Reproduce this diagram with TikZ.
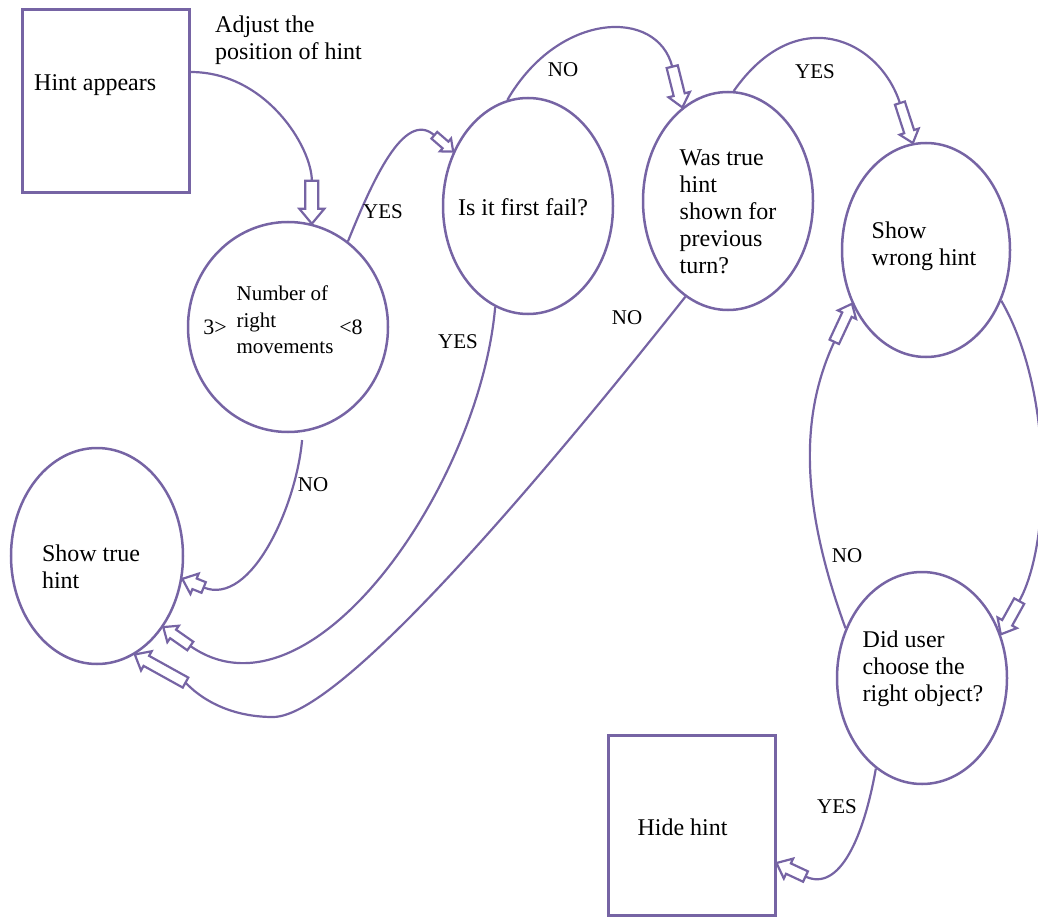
\documentclass[tikz,border=0pt]{standalone}
\usepackage{fontspec}
\setmainfont{Liberation Serif}
\usetikzlibrary{arrows.meta,shapes.geometric}

\definecolor{linec}{RGB}{118,100,164}

% hollow block arrow tip
\newdimen\hbhead
\newdimen\hbshaft
\pgfdeclarearrow{
  name = HollowBlock,
  defaults = {length = 40pt, width = 22pt},
  parameters = {\the\pgfarrowlength,\the\pgfarrowwidth},
  setup code = {
    \pgfarrowssettipend{0pt}
    \pgfarrowssetlineend{-\pgfarrowlength}
    \pgfarrowssetbackend{-\pgfarrowlength}
    \pgfarrowsupperhullpoint{0pt}{0pt}
    \pgfarrowsupperhullpoint{-\pgfarrowlength}{.5\pgfarrowwidth}
    \pgfarrowssavethe\pgfarrowlength
    \pgfarrowssavethe\pgfarrowwidth
  },
  drawing code = {
    \hbhead=.6\pgfarrowwidth
    \hbshaft=.26\pgfarrowwidth
    \pgfpathmoveto{\pgfqpoint{0pt}{0pt}}
    \pgfpathlineto{\pgfqpoint{-\hbhead}{.5\pgfarrowwidth}}
    \pgfpathlineto{\pgfqpoint{-\hbhead}{\hbshaft}}
    \pgfpathlineto{\pgfqpoint{-\pgfarrowlength}{\hbshaft}}
    \pgfpathlineto{\pgfqpoint{-\pgfarrowlength}{-\hbshaft}}
    \pgfpathlineto{\pgfqpoint{-\hbhead}{-\hbshaft}}
    \pgfpathlineto{\pgfqpoint{-\hbhead}{-.5\pgfarrowwidth}}
    \pgfpathclose
    \pgfusepathqstroke
  }
}

\tikzset{
  flow/.style={draw=linec, line width=2.2pt},
  state/.style={ellipse, draw=linec, line width=2.5pt, inner sep=0pt},
  procbox/.style={rectangle, draw=linec, line width=3pt, inner sep=0pt},
  txt/.style={inner sep=0pt, align=left, font=\fontsize{24}{27}\selectfont},
  answer/.style={inner sep=0pt, font=\fontsize{21}{24}\selectfont},
}

\begin{document}
\begin{tikzpicture}[x=1pt, y=1pt]
    \useasboundingbox (0,0) rectangle (1038,-917);

    % boxes
    \node[procbox, minimum width=167pt, minimum height=183pt] (appear) at (105.5,-101.5) {};
    \node[txt, anchor=west] (appeartxt) at (34,-85) {Hint appears};
    \node[procbox, minimum width=167pt, minimum height=180pt] (hide) at (691.5,-825) {};
    \node[txt] (hidetxt) at (682.5,-827) {Hide hint};

    \node[txt, anchor=west] (adjust) at (215,-40) {Adjust the\\position of hint};

    % states
    \node[state, minimum width=200pt, minimum height=210pt] (count) at (288,-327) {};
    \node[txt, font=\fontsize{21}{26.5}\selectfont] (counttxt) at (285,-320) {Number of\\right\\movements};
    \node[txt, font=\fontsize{22}{24}\selectfont] (lowbound) at (215,-327) {3>};
    \node[txt, font=\fontsize{22}{24}\selectfont] (upbound) at (351,-327) {<8};

    \node[state, minimum width=170pt, minimum height=216pt] (fail) at (528,-206) {};
    \node[txt] (failtxt) at (523,-207) {Is it first fail?};

    \node[state, minimum width=170pt, minimum height=218pt] (shown) at (728,-201) {};
    \node[txt] (showntxt) at (728,-212) {Was true\\hint\\shown for\\previous\\turn?};

    \node[state, minimum width=168pt, minimum height=214pt] (wrong) at (926,-250) {};
    \node[txt] (wrongtxt) at (924,-246.5) {Show\\wrong hint};

    \node[state, minimum width=172pt, minimum height=216pt] (truehint) at (97,-556) {};
    \node[txt] (truetxt) at (91,-566.5) {Show true\\hint};

    \node[state, minimum width=170pt, minimum height=212pt] (check) at (922,-678) {};
    \node[txt] (checktxt) at (923,-668.5) {Did user\\choose the\\right object?};

    % connectors
    \draw[flow, -{HollowBlock[length=43pt,width=25pt]}] ([yshift=29.5pt]appear.east) to[out=0,in=90] (count.77);
    \draw[flow, -{HollowBlock[length=25pt,width=17pt]}] (count.55) to[out=68,in=139,looseness=1.2] (fail.144);
    \draw[flow, -{HollowBlock[length=42pt,width=22pt]}] (fail.101) to[out=60,in=104,looseness=1.5] (shown.116);
    \draw[flow, -{HollowBlock[length=42pt,width=20pt]}] (shown.87) to[out=55,in=108,looseness=1.5] (wrong.97);
    \draw[flow, -{HollowBlock[length=38pt,width=22pt]}] (wrong.-34) to[out=-60,in=61,looseness=0.8] (check.29);
    \draw[flow, -{HollowBlock[length=42pt,width=20pt]}] (check.147) to[out=110,in=245] (wrong.216);
    \draw[flow, -{HollowBlock[length=32pt,width=22pt]}] (check.243) to[out=-100,in=-25,looseness=1.3] ([yshift=-38pt]hide.east);
    \draw[flow, shorten <=8pt, -{HollowBlock[length=23pt,width=22pt]}] (count.-82) to[out=-95,in=-22] (truehint.-15);
    \draw[flow, -{HollowBlock[length=33pt,width=20pt]}] (fail.-108) to[out=-95,in=-35] (truehint.-47);
    \draw[flow, -{HollowBlock[length=58pt,width=22pt]}] (shown.-114) .. controls (540,-480) and (340,-717) .. (273,-717) to[out=180,in=-29] (truehint.-69);

    % answers
    \node[answer] (yes1) at (383,-212) {YES};
    \node[answer] (no1) at (563,-70) {NO};
    \node[answer] (yes2) at (815,-72) {YES};
    \node[answer] (yes3) at (458,-342) {YES};
    \node[answer] (no2) at (627,-318) {NO};
    \node[answer] (no3) at (313,-485) {NO};
    \node[answer] (no4) at (847,-556) {NO};
    \node[answer] (yes4) at (837,-807) {YES};
\end{tikzpicture}
\end{document}
